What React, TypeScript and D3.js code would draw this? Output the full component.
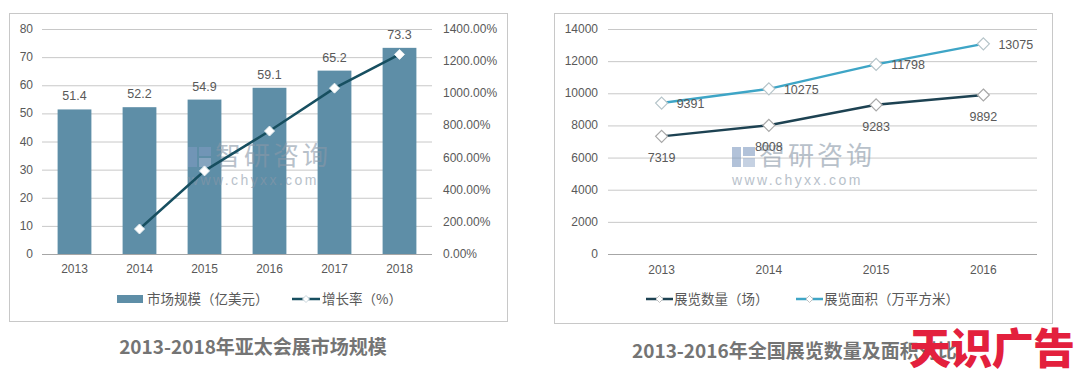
import React from "react";
import * as d3 from "d3";

const years1 = ["2013", "2014", "2015", "2016", "2017", "2018"];
const marketSize = [51.4, 52.2, 54.9, 59.1, 65.2, 73.3];
const growthYears = ["2014", "2015", "2016", "2017", "2018"];
const growthRate = [155.6, 517.2, 765.0, 1032.0, 1242.0];
const leftTicks = [0, 10, 20, 30, 40, 50, 60, 70, 80];
const rightTicks = [0, 200, 400, 600, 800, 1000, 1200, 1400];

const years2 = ["2013", "2014", "2015", "2016"];
const exhibitCount = [7319, 8008, 9283, 9892];
const exhibitArea = [9391, 10275, 11798, 13075];
const ticks2 = [0, 2000, 4000, 6000, 8000, 10000, 12000, 14000];

const FONT = "'Liberation Sans', Arial, 'Noto Sans CJK SC', sans-serif";
const CJK = "'Noto Sans CJK SC', 'Liberation Sans', sans-serif";
const TXT = "#595959";
const GRID = "#c8c8c8";

function diamond(cx: number, cy: number, r: number) {
  return `M${cx},${cy - r}L${cx + r},${cy}L${cx},${cy + r}L${cx - r},${cy}Z`;
}

function Watermark({ x, y }: { x: number; y: number }) {
  return (
    <g opacity={0.6}>
      <rect x={x} y={y + 4} width={9} height={20} fill="#7f9bc0" />
      <rect x={x + 11} y={y + 4} width={12} height={9} fill="#7f9bc0" />
      <rect x={x + 11} y={y + 15} width={12} height={9} fill="#9fb3d0" />
      <text x={x + 27} y={y + 22} fontFamily={CJK} fontSize={26} fill="#8a98a8" textLength={113}>
        智研咨询
      </text>
      <text x={x} y={y + 42} fontFamily={FONT} fontSize={14} fill="#8a98a8" letterSpacing={2.4}>
        www.chyxx.com
      </text>
    </g>
  );
}

function LeftChart() {
  const x = d3.scaleBand<string>().domain(years1).range([42, 432]).paddingInner(0.48).paddingOuter(0.24);
  const y = d3.scaleLinear().domain([0, 80]).range([254, 29]);
  const y2 = d3.scaleLinear().domain([0, 1400]).range([254, 29]);
  const cx = (yr: string) => (x(yr) as number) + x.bandwidth() / 2;
  const line = d3
    .line<number>()
    .x((_, i) => cx(growthYears[i]))
    .y((d) => y2(d));
  return (
    <g>
      <rect x={9.5} y={13.5} width={498} height={308} fill="none" stroke="#c8c8c8" />
      {leftTicks.map((t) => (
        <g key={t}>
          <line x1={42} x2={432} y1={y(t) + 0.5} y2={y(t) + 0.5} stroke={t === 0 ? "#a6a6a6" : GRID} />
          <text x={33} y={y(t) + 4} textAnchor="end" fontFamily={FONT} fontSize={12} fill={TXT}>
            {t}
          </text>
        </g>
      ))}
      {rightTicks.map((t) => (
        <text key={t} x={443} y={y2(t) + 4} fontFamily={FONT} fontSize={12} fill={TXT}>
          {t.toFixed(2)}%
        </text>
      ))}
      {years1.map((yr, i) => (
        <g key={yr}>
          <rect x={x(yr)} y={y(marketSize[i])} width={x.bandwidth()} height={254 - y(marketSize[i])} fill="#5e8ea7" />
          <text x={cx(yr)} y={y(marketSize[i]) - 9} textAnchor="middle" fontFamily={FONT} fontSize={12.5} fill={TXT}>
            {marketSize[i]}
          </text>
          <text x={cx(yr)} y={273} textAnchor="middle" fontFamily={FONT} fontSize={12} fill={TXT}>
            {yr}
          </text>
        </g>
      ))}
      <Watermark x={188} y={143} />
      <path d={line(growthRate) || ""} fill="none" stroke="#174f60" strokeWidth={2.5} />
      {growthRate.map((v, i) => (
        <path key={i} d={diamond(cx(growthYears[i]), y2(v), 5)} fill="#ffffff" stroke="#e8eef0" strokeWidth={1} />
      ))}
      {/* legend */}
      <rect x={117} y={295} width={26} height={8} fill="#5e8ea7" />
      <text x={147} y={304} fontFamily={CJK} fontSize={13.5} fill={TXT}>
        市场规模（亿美元）
      </text>
      <line x1={292} x2={320} y1={299} y2={299} stroke="#174f60" strokeWidth={2.5} />
      <path d={diamond(306, 299, 3.5)} fill="#fff" stroke="#c9d6dc" />
      <text x={322} y={304} fontFamily={CJK} fontSize={13.5} fill={TXT}>
        增长率（%）
      </text>
      <text x={253} y={354} textAnchor="middle" fontFamily={CJK} fontSize={19} fontWeight="bold" fill="#747474">
        2013-2018年亚太会展市场规模
      </text>
    </g>
  );
}

function RightChart() {
  const x = d3.scalePoint<string>().domain(years2).range([608, 1037]).padding(0.5);
  const y = d3.scaleLinear().domain([0, 14000]).range([254, 29]);
  const line = d3
    .line<number>()
    .x((_, i) => x(years2[i]) as number)
    .y((d) => y(d));
  return (
    <g>
      <rect x={554.5} y={13.5} width={498} height={310} fill="none" stroke="#c8c8c8" />
      {ticks2.map((t) => (
        <g key={t}>
          <line x1={608} x2={1037} y1={y(t) + 0.5} y2={y(t) + 0.5} stroke={t === 0 ? "#a6a6a6" : GRID} />
          <text x={598} y={y(t) + 4} textAnchor="end" fontFamily={FONT} fontSize={12} fill={TXT}>
            {t}
          </text>
        </g>
      ))}
      {years2.map((yr) => (
        <text key={yr} x={x(yr)} y={274} textAnchor="middle" fontFamily={FONT} fontSize={12} fill={TXT}>
          {yr}
        </text>
      ))}
      <Watermark x={732} y={143} />
      <path d={line(exhibitCount) || ""} fill="none" stroke="#1d4252" strokeWidth={2.5} />
      <path d={line(exhibitArea) || ""} fill="none" stroke="#3ea5c6" strokeWidth={2.5} />
      {exhibitCount.map((v, i) => (
        <g key={"c" + i}>
          <path d={diamond(x(years2[i]) as number, y(v), 6)} fill="#fff" stroke="#a8a8a8" strokeWidth={1.2} />
          <text x={x(years2[i])} y={y(v) + 26} textAnchor="middle" fontFamily={FONT} fontSize={12.5} fill={TXT}>
            {v}
          </text>
        </g>
      ))}
      {exhibitArea.map((v, i) => (
        <g key={"a" + i}>
          <path d={diamond(x(years2[i]) as number, y(v), 6)} fill="#fff" stroke="#b5c4c9" strokeWidth={1.2} />
          <text x={(x(years2[i]) as number) + 15} y={y(v) + 5} fontFamily={FONT} fontSize={12.5} fill={TXT}>
            {v}
          </text>
        </g>
      ))}
      {/* legend */}
      <line x1={646} x2={673} y1={299} y2={299} stroke="#1d4252" strokeWidth={2.5} />
      <path d={diamond(659.5, 299, 3.5)} fill="#fff" stroke="#c0c0c0" />
      <text x={674} y={304} fontFamily={CJK} fontSize={13.5} fill={TXT}>
        展览数量（场）
      </text>
      <line x1={796} x2={823} y1={299} y2={299} stroke="#3ea5c6" strokeWidth={2.5} />
      <path d={diamond(809.5, 299, 3.5)} fill="#fff" stroke="#c0c0c0" />
      <text x={824} y={304} fontFamily={CJK} fontSize={13.5} fill={TXT}>
        展览面积（万平方米）
      </text>
      <text x={632} y={358} fontFamily={CJK} fontSize={19} fontWeight="bold" fill="#747474">
        2013-2016年全国展览数量及面积对比
      </text>
      <text x={909} y={364} fontFamily={CJK} fontSize={42} fontWeight="900" fill="#e3203d" textLength={166}>
        天识广告
      </text>
    </g>
  );
}

export default function App() {
  return (
    <svg width={1080} height={369} style={{ position: "absolute", left: 0, top: 0, background: "#fff" }}>
      <rect width={1080} height={369} fill="#fff" />
      <LeftChart />
      <RightChart />
    </svg>
  );
}
